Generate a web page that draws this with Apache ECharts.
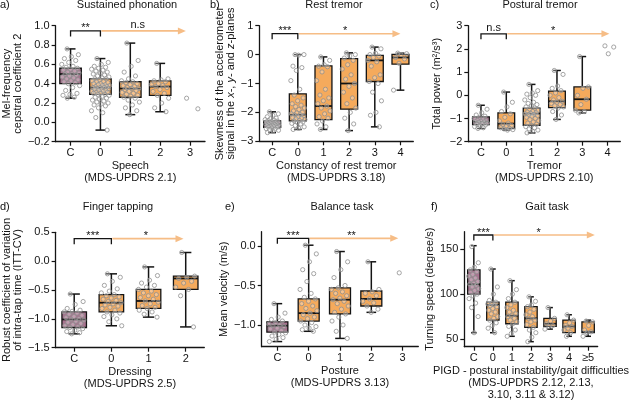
<!DOCTYPE html>
<html><head><meta charset="utf-8">
<script src="https://cdn.jsdelivr.net/npm/echarts@6/dist/echarts.min.js"></script>
<style>html,body{margin:0;padding:0;background:#fff}#c{width:631px;height:403px}</style>
</head><body><div id="c"></div>
<script>
// ---------- DATA ----------
// a) Sustained phonation
const catsA = ['C','0','1','2','3'];
const boxesA = [[0.25,0.40,0.50,0.56,0.76],[-0.08,0.29,0.36,0.45,0.66],[0.08,0.26,0.35,0.42,0.82],[0.11,0.28,0.37,0.43,0.61],null];
const pointsA = [
  [0.76,0.70,0.68,0.66,0.64,0.62,0.60,0.58,0.57,0.56,0.55,0.54,0.53,0.52,0.51,0.50,0.50,0.49,0.48,0.47,0.46,0.45,0.44,0.43,0.42,0.41,0.40,0.38,0.36,0.33,0.30,0.29,0.28,0.26,0.25],
  [0.66,0.62,0.60,0.58,0.57,0.56,0.55,0.54,0.53,0.52,0.51,0.50,0.49,0.48,0.47,0.46,0.45,0.45,0.44,0.43,0.42,0.42,0.41,0.40,0.40,0.39,0.39,0.38,0.38,0.37,0.37,0.36,0.36,0.36,0.35,0.35,0.34,0.34,0.33,0.33,0.32,0.32,0.31,0.31,0.30,0.30,0.29,0.29,0.28,0.27,0.26,0.25,0.24,0.23,0.22,0.21,0.20,0.19,0.18,0.17,0.15,0.12,0.10,0.05,-0.08],
  [0.82,0.64,0.58,0.52,0.48,0.45,0.43,0.42,0.41,0.40,0.39,0.38,0.37,0.36,0.35,0.35,0.34,0.33,0.32,0.31,0.30,0.29,0.28,0.27,0.26,0.25,0.23,0.21,0.18,0.15,0.12,0.08],
  [0.61,0.45,0.44,0.43,0.42,0.40,0.39,0.38,0.37,0.36,0.34,0.32,0.30,0.28,0.25,0.20,0.15,0.11],
  [0.25,0.14]
];
// b) Rest tremor
const catsB = ['C','0','1','2','3','4'];
const boxesB = [[-2.70,-2.52,-2.41,-2.29,-1.98],[-2.59,-2.29,-2.08,-1.36,0.0],[-2.59,-2.25,-1.78,-0.39,-0.08],[-2.63,-1.89,-1.0,-0.14,0.06],[-2.50,-0.93,-0.20,-0.03,0.26],[-1.23,-0.33,-0.10,0.01,0.05]];
const pointsB = [
  [-1.98,-2.05,-2.10,-2.15,-2.20,-2.22,-2.25,-2.27,-2.29,-2.30,-2.32,-2.33,-2.35,-2.36,-2.37,-2.38,-2.39,-2.40,-2.40,-2.41,-2.42,-2.43,-2.44,-2.45,-2.46,-2.47,-2.48,-2.49,-2.50,-2.51,-2.52,-2.54,-2.56,-2.58,-2.60,-2.62,-2.65,-2.70],
  [0.0,0.0,-0.02,-0.40,-0.45,-0.55,-0.90,-1.20,-1.40,-1.50,-1.60,-1.70,-1.75,-1.80,-1.85,-1.90,-1.95,-2.00,-2.02,-2.05,-2.08,-2.10,-2.12,-2.15,-2.18,-2.20,-2.22,-2.25,-2.28,-2.30,-2.33,-2.35,-2.38,-2.40,-2.45,-2.50,-2.55,-2.59],
  [-0.08,-0.20,-0.35,-0.40,-0.42,-0.60,-0.90,-1.20,-1.40,-1.50,-1.60,-1.70,-1.78,-1.85,-1.95,-2.05,-2.15,-2.20,-2.30,-2.40,-2.50,-2.59],
  [0.06,0.0,-0.05,-0.12,-0.20,-0.35,-0.50,-0.70,-0.85,-1.0,-1.10,-1.30,-1.50,-1.70,-1.85,-2.0,-2.20,-2.40,-2.63],
  [0.26,0.20,0.05,0.0,-0.05,-0.10,-0.20,-0.25,-0.40,-0.70,-0.80,-0.93,-1.0,-1.30,-1.60,-2.0,-2.10,-2.50],
  [0.05,0.03,0.0,-0.10,-0.15,-0.30,-1.23]
];
// c) Postural tremor
const catsC = ['C','0','1','2','3','4'];
const boxesC = [[-1.43,-1.26,-1.14,-0.93,-0.43],[-1.50,-1.43,-1.22,-0.76,0.14],[-1.62,-1.29,-0.79,-0.55,0.47],[-1.04,-0.53,-0.26,0.18,1.07],[-0.76,-0.64,-0.17,0.36,1.67],null];
const pointsC = [
  [-0.43,-0.60,-0.75,-0.85,-0.90,-0.95,-1.0,-1.05,-1.08,-1.10,-1.12,-1.14,-1.15,-1.17,-1.20,-1.22,-1.25,-1.28,-1.30,-1.35,-1.40,-1.43],
  [0.14,-0.30,-0.50,-0.70,-0.80,-0.95,-1.10,-1.20,-1.25,-1.30,-1.35,-1.40,-1.42,-1.45,-1.48,-1.50],
  [0.47,0.20,0.10,0.05,0.0,-0.10,-0.20,-0.30,-0.35,-0.40,-0.45,-0.50,-0.55,-0.60,-0.65,-0.70,-0.72,-0.75,-0.78,-0.80,-0.82,-0.85,-0.88,-0.90,-0.95,-1.0,-1.05,-1.10,-1.15,-1.20,-1.25,-1.30,-1.35,-1.40,-1.45,-1.50,-1.55,-1.62],
  [1.07,0.90,0.40,0.30,0.20,0.10,0.0,-0.10,-0.20,-0.26,-0.30,-0.35,-0.40,-0.45,-0.50,-0.55,-0.70,-0.85,-1.04],
  [1.67,0.36,0.30,0.0,-0.17,-0.40,-0.64,-0.70,-0.76],
  [2.13,2.08,1.79]
];
// d) Finger tapping
const catsD = ['C','0','1','2'];
const boxesD = [[-1.26,-1.15,-1.01,-0.88,-0.57],[-1.12,-0.88,-0.72,-0.58,-0.22],[-0.97,-0.82,-0.69,-0.49,-0.10],[-1.14,-0.49,-0.30,-0.26,0.15]];
const pointsD = [
  [-0.57,-0.70,-0.75,-0.82,-0.85,-0.87,-0.88,-0.90,-0.92,-0.94,-0.96,-0.98,-1.0,-1.01,-1.02,-1.04,-1.06,-1.08,-1.10,-1.12,-1.14,-1.15,-1.17,-1.20,-1.22,-1.24,-1.26],
  [-0.22,-0.28,-0.35,-0.42,-0.48,-0.52,-0.55,-0.58,-0.60,-0.62,-0.64,-0.66,-0.68,-0.70,-0.72,-0.74,-0.76,-0.78,-0.80,-0.82,-0.85,-0.88,-0.90,-0.93,-0.96,-1.0,-1.05,-1.12],
  [-0.10,-0.25,-0.33,-0.38,-0.42,-0.45,-0.49,-0.52,-0.55,-0.58,-0.60,-0.63,-0.66,-0.69,-0.71,-0.74,-0.77,-0.80,-0.82,-0.85,-0.88,-0.92,-0.97],
  [0.15,-0.26,-0.28,-0.30,-0.35,-0.38,-0.45,-0.49,-0.60,-1.14]
];
// e) Balance task
const catsE = ['C','0','1','2','3'];
const boxesE = [[-1.21,-1.09,-1.01,-0.96,-0.73],[-1.08,-0.95,-0.85,-0.67,0.01],[-1.17,-0.86,-0.68,-0.53,-0.07],[-0.84,-0.76,-0.67,-0.57,-0.20],null];
const pointsE = [
  [-0.73,-0.85,-0.90,-0.93,-0.95,-0.97,-0.99,-1.0,-1.01,-1.02,-1.04,-1.05,-1.07,-1.09,-1.10,-1.12,-1.14,-1.16,-1.18,-1.21],
  [0.01,-0.10,-0.20,-0.30,-0.35,-0.45,-0.55,-0.60,-0.65,-0.67,-0.70,-0.73,-0.76,-0.79,-0.82,-0.85,-0.87,-0.90,-0.92,-0.95,-0.97,-1.0,-1.02,-1.04,-1.06,-1.08],
  [-0.07,-0.20,-0.30,-0.40,-0.50,-0.53,-0.55,-0.58,-0.60,-0.63,-0.66,-0.68,-0.70,-0.73,-0.76,-0.80,-0.84,-0.86,-0.90,-0.95,-1.0,-1.08,-1.17],
  [-0.20,-0.55,-0.58,-0.60,-0.63,-0.67,-0.70,-0.72,-0.76,-0.80,-0.84],
  [-0.34]
];
// f) Gait task
const catsF = ['C','0','1','2','3','4','≥5'];
const boxesF = [[57,100,111,127,154],[57,71,88,91,128],[53,67,76,91,115],[47,63,73,86,97],[61,64,67,73,85],[53,57,64,71,77],[53,57,58,69,71]];
const pointsF = [
  [153,135,130,127,125,122,120,118,116,114,112,111,110,108,106,104,102,100,98,95,90,85,75,57],
  [128,108,100,93,91,90,89,88,87,86,84,82,80,78,75,73,71,68,65,62,57],
  [115,105,100,95,91,88,85,82,80,78,76,75,73,71,69,67,64,60,56,53],
  [97,92,88,86,83,80,77,75,73,71,69,66,63,60,57,52,47],
  [85,73,70,67,65,64,61],
  [77,71,68,65,64,62,60,57,53],
  [70,69,65,60,58,57,53]
];

// ---------- LAYOUT / STYLE ----------
const FONT = "'Liberation Sans', Arial, sans-serif";
const INK = '#141414';
const PURPLE = '#a8738f';
const ORANGE = '#f5aa5c';
const ARROW = '#f6bd86';
const panels = [
  {letter:'a)', letterPos:[0,5], title:'Sustained phonation', titlePos:[127,5], cats:catsA, boxes:boxesA, points:pointsA,
   grid:{left:49.3, top:25.7, width:155.7, height:116}, y:{min:-0.2, max:1.0, interval:0.2}, dec:1,
   yName:'Mel-frequency\ncepstral coefficient 2', yGap:29, xName:'Speech\n(MDS-UPDRS 2.1)', ratio:0.72,
   sig:{y:0.946, l:'**', lx:0.5, r:'n.s', rx:2.25, end:3.86}},
  {letter:'b)', letterPos:[210,5], title:'Rest tremor', titlePos:[334,5], cats:catsB, boxes:boxesB, points:pointsB,
   grid:{left:259.3, top:25.7, width:154, height:115.6}, y:{min:-3, max:1, interval:1}, dec:0,
   yName:'Skewness of the accelerometer\nsignal in the {i|x}-, {i|y}- and {i|z}-planes', yGap:15.5, xName:'Constancy of rest tremor\n(MDS-UPDRS 3.18)', ratio:0.66,
   sig:{y:0.724, l:'***', lx:0.5, r:'*', rx:2.84, end:5.0}},
  {letter:'c)', letterPos:[430,5], title:'Postural tremor', titlePos:[540,5], cats:catsC, boxes:boxesC, points:pointsC,
   grid:{left:468.3, top:25.7, width:152, height:116}, y:{min:-2, max:3, interval:1}, dec:0,
   yName:'Total power (m²/s³)', yGap:25.5, xName:'Tremor\n(MDS-UPDRS 2.10)', ratio:0.66,
   sig:{y:2.65, l:'n.s', lx:0.5, r:'*', rx:2.85, end:5.07}},
  {letter:'d)', letterPos:[0,207], title:'Finger tapping', titlePos:[118,207], cats:catsD, boxes:boxesD, points:pointsD,
   grid:{left:49.3, top:232.3, width:155, height:115.4}, y:{min:-1.5, max:0.5, interval:0.5}, dec:1,
   yName:'Robust coefficient of variation\nof intra-tap time (ITT-CV)', yGap:27, xName:'Dressing\n(MDS-UPDRS 2.5)', ratio:0.66,
   sig:{y:0.39, l:'***', lx:0.5, r:'*', rx:1.93, end:2.94}},
  {letter:'e)', letterPos:[225,207], title:'Balance task', titlePos:[342,207], cats:catsE, boxes:boxesE, points:pointsE,
   grid:{left:261.7, top:231.7, width:156.6, height:115}, y:{min:-1.275, max:0.181, ticks:[-1,-0.5,0]}, dec:1,
   yName:'Mean velocity (m/s)', yGap:27.5, xName:'Posture\n(MDS-UPDRS 3.13)', ratio:0.67,
   sig:{y:0.097, l:'***', lx:0.5, r:'**', rx:2.37, end:3.86}},
  {letter:'f)', letterPos:[431,207], title:'Gait task', titlePos:[547,207], cats:catsF, boxes:boxesF, points:pointsF,
   grid:{left:464.3, top:231.7, width:154, height:115}, y:{min:41.4, max:169.6, ticks:[50,100,150]}, dec:0,
   yName:'Turning speed (degree/s)', yGap:20.5, xName:'PIGD - postural instability/gait difficulties\n(MDS-UPDRS 2.12, 2.13,\n3.10, 3.11 & 3.12)', ratio:0.65,
   sig:{y:165.9, l:'***', lx:0.5, r:'*', rx:3.4, end:6.35}}
];

function fmt(v, dec) {
  const s = Math.abs(v).toFixed(dec);
  return (v < -1e-9 ? '\u2212' : '') + s;
}

const grids = [], xAxes = [], yAxes = [], series = [], graphics = [];
panels.forEach((P, i) => {
  grids.push({left:P.grid.left, top:P.grid.top, width:P.grid.width, height:P.grid.height, containLabel:false});
  xAxes.push({
    type:'category', gridIndex:i, data:P.cats, boundaryGap:true,
    axisLine:{show:true, onZero:false, lineStyle:{color:INK, width:1.3}},
    axisTick:{show:true, alignWithLabel:true, length:4, lineStyle:{color:INK, width:1.2}},
    axisLabel:{color:INK, fontSize:11, fontFamily:FONT, margin:6, interval:0},
    splitLine:{show:false},
    name:P.xName, nameLocation:'middle', nameGap:18.5,
    nameTextStyle:{color:INK, fontSize:11, fontFamily:FONT, lineHeight:12}
  });
  const ya = {
    type:'value', gridIndex:i, min:P.y.min, max:P.y.max,
    axisLine:{show:true, lineStyle:{color:INK, width:1.3}},
    axisTick:{show:true, length:4, lineStyle:{color:INK, width:1.2}},
    axisLabel:{color:INK, fontSize:11, fontFamily:FONT, margin:6, formatter:v => fmt(v, P.dec)},
    splitLine:{show:false},
    name:P.yName, nameLocation:'middle', nameRotate:90, nameGap:P.yGap,
    nameTextStyle:{color:INK, fontSize:11, fontFamily:FONT, lineHeight:11.5, rich:{i:{fontStyle:'italic', fontSize:11, fontFamily:FONT, color:INK, lineHeight:11.5}}}
  };
  if (P.y.interval != null) ya.interval = P.y.interval;
  if (P.y.ticks) {
    ya.axisTick.customValues = P.y.ticks;
    ya.axisLabel.customValues = P.y.ticks;
  }
  yAxes.push(ya);

  // boxes
  const boxData = P.boxes.map((b, k) => b ? [k].concat(b) : null).filter(Boolean);
  series.push({
    type:'custom', xAxisIndex:i, yAxisIndex:i, z:2, silent:true,
    encode:{x:0, y:[1,2,3,4,5]},
    data:boxData,
    renderItem:(params, api) => {
      const k = api.value(0);
      const band = api.size([1,0])[0];
      const w = band * P.ratio, cw = w * 0.46;
      const yMin = api.coord([k, api.value(1)])[1];
      const yQ1 = api.coord([k, api.value(2)])[1];
      const yMed = api.coord([k, api.value(3)])[1];
      const yQ3 = api.coord([k, api.value(4)])[1];
      const yMax = api.coord([k, api.value(5)])[1];
      const xc = api.coord([k, api.value(3)])[0];
      const ls = {stroke:INK, lineWidth:1.5, fill:'none'};
      return {type:'group', children:[
        {type:'line', shape:{x1:xc, y1:yQ3, x2:xc, y2:yMax}, style:ls},
        {type:'line', shape:{x1:xc, y1:yQ1, x2:xc, y2:yMin}, style:ls},
        {type:'line', shape:{x1:xc-cw/2, y1:yMax, x2:xc+cw/2, y2:yMax}, style:ls},
        {type:'line', shape:{x1:xc-cw/2, y1:yMin, x2:xc+cw/2, y2:yMin}, style:ls},
        {type:'rect', shape:{x:xc-w/2, y:yQ3, width:w, height:yQ1-yQ3}, style:{fill:k===0?PURPLE:ORANGE, stroke:INK, lineWidth:1.3}},
        {type:'line', shape:{x1:xc-w/2, y1:yMed, x2:xc+w/2, y2:yMed}, style:{stroke:INK, lineWidth:1.8}}
      ]};
    }
  });

  // points
  const ptData = [];
  P.points.forEach((arr, k) => arr.forEach((v, j) => ptData.push([k, v, j])));
  series.push({
    type:'custom', xAxisIndex:i, yAxisIndex:i, z:3, silent:true,
    encode:{x:0, y:1},
    data:ptData,
    renderItem:(params, api) => {
      const k = api.value(0), v = api.value(1), j = api.value(2);
      const pt = api.coord([k, v]);
      const band = api.size([1,0])[0];
      const w = band * P.ratio;
      const frac = (j * 0.618034 + 0.31) % 1;
      return {type:'circle', shape:{cx:pt[0] + (frac - 0.5) * w * 0.85, cy:pt[1], r:2.1},
        style:{fill:'rgba(255,255,255,0.3)', stroke:'#8f8f8f', lineWidth:0.8}};
    }
  });

  // significance annotations
  const S = P.sig;
  series.push({
    type:'custom', xAxisIndex:i, yAxisIndex:i, z:4, silent:true, clip:false,
    encode:{x:0, y:1},
    data:[[0, S.y]],
    renderItem:(params, api) => {
      const p0 = api.coord([0, S.y]);
      const p1 = api.coord([1, S.y]);
      const band = p1[0] - p0[0];
      const X = t => p0[0] + t * band;
      const y = p0[1], leg = 5.5;
      const xe = X(S.end);
      const txt = (s, t) => {
        const star = s.indexOf('*') >= 0;
        return {type:'text', x:X(t), y: star ? y - 2.5 : y - 0.5,
          style:{text:s, fill:INK, font:'11px ' + FONT, align:'center', verticalAlign: star ? 'middle' : 'bottom'}};
      };
      return {type:'group', children:[
        {type:'line', shape:{x1:X(1) + 1, y1:y, x2:xe - 7, y2:y}, style:{stroke:ARROW, lineWidth:1.6}},
        {type:'polygon', shape:{points:[[xe, y], [xe - 8, y - 3.5], [xe - 8, y + 3.5]]}, style:{fill:ARROW}},
        {type:'polyline', shape:{points:[[X(0), y + leg], [X(0), y], [X(1), y], [X(1), y + leg]]}, style:{stroke:INK, lineWidth:1.3, fill:'none'}},
        txt(S.l, S.lx), txt(S.r, S.rx)
      ]};
    }
  });

  graphics.push({type:'text', x:P.letterPos[0], y:P.letterPos[1], style:{text:P.letter, fill:INK, font:'11px ' + FONT, align:'left', verticalAlign:'middle'}});
  graphics.push({type:'text', x:P.titlePos[0], y:P.titlePos[1], style:{text:P.title, fill:INK, font:'11px ' + FONT, align:'center', verticalAlign:'middle'}});
});

const chart = echarts.init(document.getElementById('c'), null, {renderer:'canvas'});
chart.setOption({
  animation:false,
  backgroundColor:'#ffffff',
  grid:grids, xAxis:xAxes, yAxis:yAxes, series:series, graphic:graphics
});
</script>
</body></html>
